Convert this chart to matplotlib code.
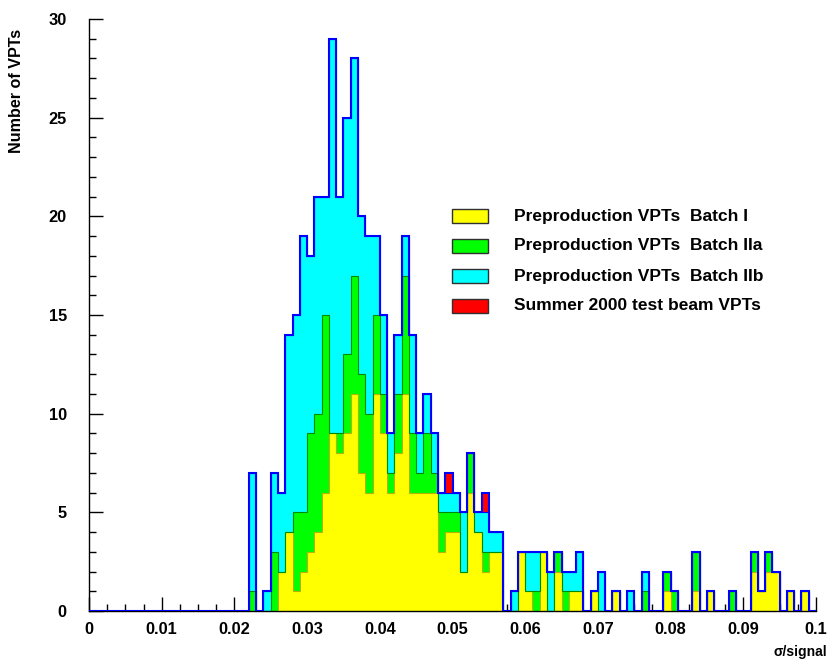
import numpy as np
import matplotlib
matplotlib.use('Agg')
import matplotlib.pyplot as plt
from matplotlib.patches import Rectangle

# histogram: 100 bins of width 0.001 from 0 to 0.1; counts listed from bin 22 on
n_bins = 100
first_bin = 22

batch_1 = [0, 0, 0, 0, 2, 4, 1, 2, 3, 4,
           6, 9, 8, 9, 11, 7, 6, 11, 9, 6,
           8, 11, 6, 6, 6, 6, 3, 4, 4, 2,
           6, 4, 2, 3, 3, 0, 0, 3, 1, 0,
           3, 0, 2, 0, 1, 1, 0, 1, 0, 0,
           1, 0, 0, 0, 0, 0, 0, 1, 0, 0,
           0, 1, 0, 1, 0, 0, 0, 0, 0, 2,
           1, 2, 2, 0, 1, 0, 1, 0]
batch_2a = [1, 0, 0, 3, 0, 0, 4, 3, 6, 6,
            9, 0, 1, 4, 6, 5, 4, 4, 2, 1,
            3, 6, 3, 1, 3, 1, 2, 1, 1, 0,
            2, 0, 1, 0, 0, 0, 0, 0, 0, 1,
            0, 0, 1, 1, 0, 0, 0, 0, 0, 0,
            0, 0, 0, 0, 1, 0, 0, 1, 1, 0,
            0, 2, 0, 0, 0, 0, 1, 0, 0, 1,
            0, 1, 0, 0, 0, 0, 0, 0]
batch_2b = [6, 0, 1, 4, 4, 10, 10, 14, 9, 11,
            6, 20, 12, 12, 11, 8, 9, 4, 4, 2,
            3, 2, 5, 2, 2, 2, 1, 1, 1, 3,
            0, 1, 2, 1, 1, 0, 1, 0, 2, 2,
            0, 2, 0, 1, 1, 2, 0, 0, 2, 0,
            0, 0, 1, 0, 1, 0, 0, 0, 0, 0,
            0, 0, 0, 0, 0, 0, 0, 0, 0, 0,
            0, 0, 0, 0, 0, 0, 0, 0]
test_beam = [0, 0, 0, 0, 0, 0, 0, 0, 0, 0,
             0, 0, 0, 0, 0, 0, 0, 0, 0, 0,
             0, 0, 0, 0, 0, 0, 0, 1, 0, 0,
             0, 0, 1, 0, 0, 0, 0, 0, 0, 0,
             0, 0, 0, 0, 0, 0, 0, 0, 0, 0,
             0, 0, 0, 0, 0, 0, 0, 0, 0, 0,
             0, 0, 0, 0, 0, 0, 0, 0, 0, 0,
             0, 0, 0, 0, 0, 0, 0, 0]

labels = ['Preproduction VPTs  Batch I',
          'Preproduction VPTs  Batch IIa',
          'Preproduction VPTs  Batch IIb',
          'Summer 2000 test beam VPTs']
fill_colors = ['#ffff00', '#00ff00', '#00ffff', '#ff0000']
line_colors = ['#b4b400', '#008c00', '#0000ff', '#0000ff']

x_ticks = [0.0, 0.01, 0.02, 0.03, 0.04, 0.05, 0.06, 0.07, 0.08, 0.09, 0.1]
x_tick_labels = ['0', '0.01', '0.02', '0.03', '0.04', '0.05', '0.06',
                 '0.07', '0.08', '0.09', '0.1']
y_ticks = [0, 5, 10, 15, 20, 25, 30]


def full_hist(values):
    counts = np.zeros(n_bins)
    counts[first_bin:first_bin + len(values)] = values
    return counts


plt.rcParams['font.family'] = ['Liberation Sans', 'DejaVu Sans']
plt.rcParams['font.weight'] = 'bold'

W, H = 829, 664
fig = plt.figure(figsize=(W / 100, H / 100), dpi=100)
ax = fig.add_axes([89 / W, 1 - 611 / H, (816 - 89) / W, (611 - 19) / H])

edges = np.linspace(0.0, 0.1, n_bins + 1)
series = [full_hist(s) for s in (batch_1, batch_2a, batch_2b, test_beam)]
cumulative = np.cumsum(series, axis=0)

# draw like a ROOT stack: biggest sum first, smaller sums painted over it
for k in range(3, -1, -1):
    ax.stairs(cumulative[k], edges, fill=True, color=fill_colors[k],
              linewidth=0, zorder=2)
for k in range(3):
    ax.stairs(cumulative[k], edges, color=line_colors[k], linewidth=0.8,
              zorder=3)
ax.stairs(cumulative[3], edges, color='#0000ff', linewidth=1.5,
          baseline=0, zorder=4)

ax.set_xlim(0, 0.1)
ax.set_ylim(0, 30)
ax.set_xticks(x_ticks)
ax.set_xticklabels(x_tick_labels)
ax.set_xticks(np.arange(0, 0.1001, 0.0025), minor=True)
ax.set_yticks(y_ticks)
ax.set_yticks(np.arange(0, 31, 1), minor=True)
ax.tick_params(which='major', direction='in', length=10, width=1,
               labelsize=11.8)
ax.tick_params(which='minor', direction='in', length=5, width=1)
ax.tick_params(axis='x', which='major', pad=8)
ax.tick_params(axis='y', which='major', pad=16)
for lab in ax.get_xticklabels() + ax.get_yticklabels():
    lab.set_fontweight('bold')

ax.spines['top'].set_visible(False)
ax.spines['right'].set_visible(False)
ax.spines['left'].set_linewidth(1)
ax.spines['bottom'].set_linewidth(1)

fig.text(17 / W, 1 - 29 / H, 'Number of VPTs', rotation=90, ha='center',
         va='top', fontsize=11.6, fontweight='bold')
fig.text(827 / W, 1 - 652 / H, 'σ/signal', ha='right', va='center',
         fontsize=10, fontweight='bold')

# legend drawn by hand, no frame
row_y = [216, 246, 276, 306]
for yy, lab, col in zip(row_y, labels, fill_colors):
    fig.add_artist(Rectangle((452 / W, 1 - (yy + 7) / H), 36 / W, 14 / H,
                             transform=fig.transFigure, facecolor=col,
                             edgecolor='#303030', linewidth=1))
    fig.text(514 / W, 1 - yy / H, lab, ha='left', va='center',
             fontsize=12.5, fontweight='bold')

fig.savefig('out.png', dpi=100)
